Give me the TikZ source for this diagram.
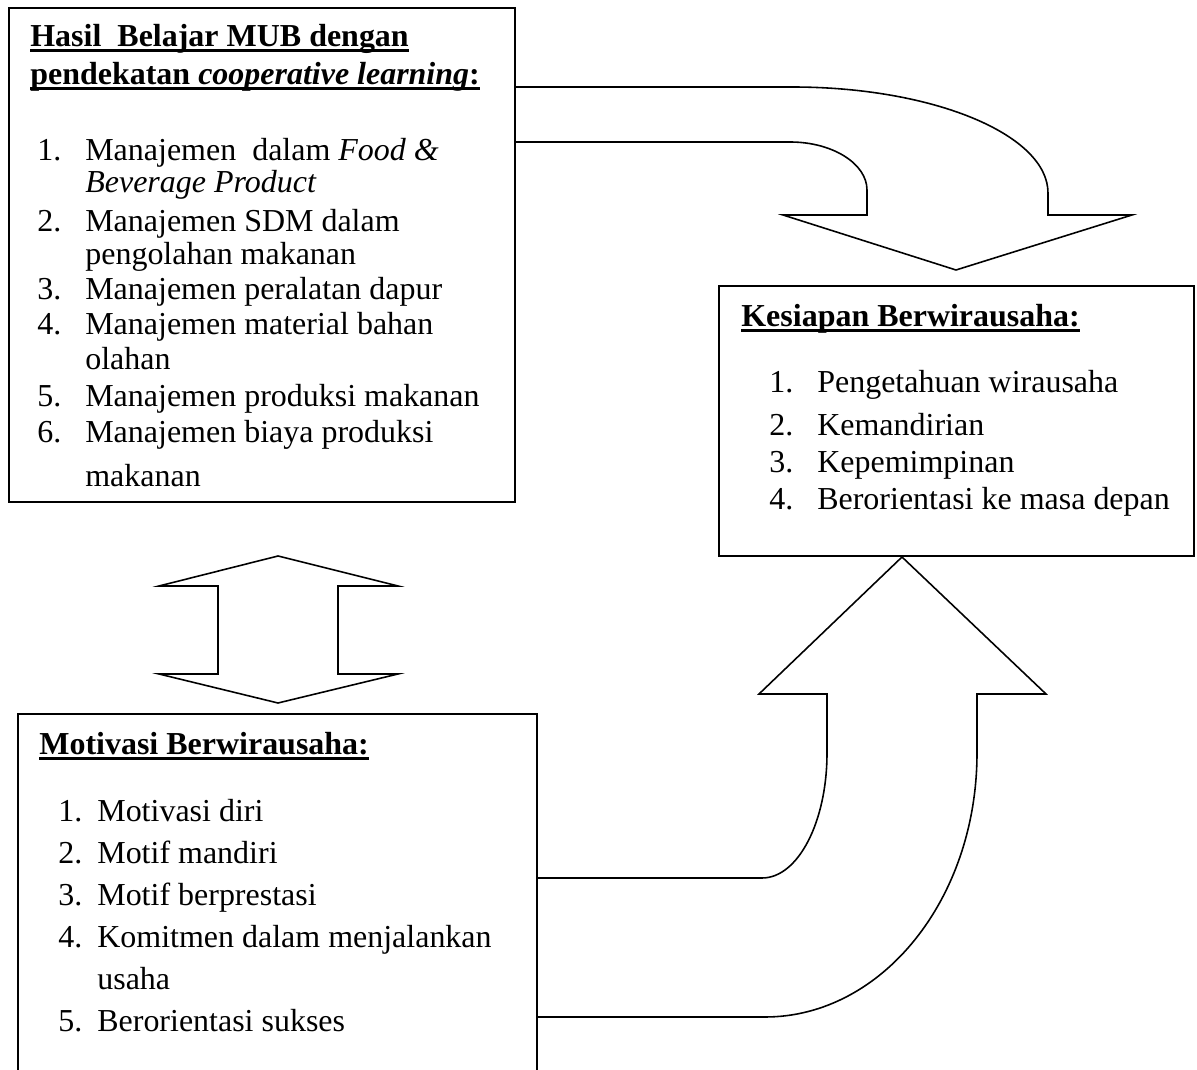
\documentclass[tikz,border=0pt]{standalone}
\usepackage{fontspec}
\setmainfont{Liberation Serif}
\usetikzlibrary{fit,calc}
\newcommand{\garis}[1]{\setbox0\hbox{#1}\rlap{\rule[-3pt]{\wd0}{1.6pt}}\box0}

\begin{document}
\begin{tikzpicture}[x=0.02cm,y=-0.02cm,
  kotak/.style={draw,line width=1.1pt,inner sep=0pt},
  panah/.style={line width=0.9pt,line join=miter},
  teks/.style={anchor=base west,inner sep=0pt,font=\fontsize{18.2}{19.92}\selectfont}]
\useasboundingbox (0,0) rectangle (1197,1070);
\clip (0,0) rectangle (1197,1070);
%kotak
\node[kotak,fit={(9,8) (515,502)}] (hasil) {};
\node[kotak,fit={(719,286) (1194,556)}] (siap) {};
\node[kotak,fit={(18,714) (537,1090)}] (motif) {};
%hasil belajar
\node[teks,font=\fontsize{18.2}{21.6}\selectfont\bfseries] (judulH) at (30,47)
  {\begin{tabular}[t]{@{}l@{}}\garis{Hasil\ \ Belajar MUB dengan}\\
   \garis{pendekatan \textit{cooperative learning}:}\end{tabular}};
\node[teks] (daftarH) at (37,161) {\begin{tabular}[t]{@{}p{0.96cm}@{}l@{}}
  1. & Manajemen\ \ dalam \textit{Food \&}\\[-0.06cm]
     & \textit{Beverage Product}\\[0.08cm]
  2. & Manajemen SDM dalam\\[-0.04cm]
     & pengolahan makanan\\
  3. & Manajemen peralatan dapur\\
  4. & Manajemen material bahan\\
     & olahan\\[0.04cm]
  5. & Manajemen produksi makanan\\[0.02cm]
  6. & Manajemen biaya produksi\\[0.18cm]
     & makanan
  \end{tabular}};
%kesiapan
\node[teks,font=\fontsize{18.2}{20}\selectfont\bfseries] (judulK) at (741,327) {\garis{Kesiapan Berwirausaha:}};
\node[teks,font=\fontsize{18.2}{21.05}\selectfont] (daftarK) at (769,393) {\begin{tabular}[t]{@{}p{0.96cm}@{}l@{}}
  1. & Pengetahuan wirausaha\\[0.12cm]
  2. & Kemandirian\\
  3. & Kepemimpinan\\
  4. & Berorientasi ke masa depan
  \end{tabular}};
%motivasi
\node[teks,font=\fontsize{18.2}{20}\selectfont\bfseries] (judulM) at (39,755) {\garis{Motivasi Berwirausaha:}};
\node[teks,font=\fontsize{18.2}{23.9}\selectfont] (daftarM) at (58,822) {\begin{tabular}[t]{@{}p{0.78cm}@{}l@{}}
  1. & Motivasi diri\\
  2. & Motif mandiri\\
  3. & Motif berprestasi\\
  4. & Komitmen dalam menjalankan\\
     & usaha\\
  5. & Berorientasi sukses
  \end{tabular}};
%panah
\draw[panah] (hasil.east |- 0,87) -- (792,87) .. controls (934,87) and (1048,135) .. (1048,193)
  -- (1048,215) -- (1132,215) -- (956,270) coordinate (ujungA) -- (783,215) -- (867,215) -- (867,190)
  .. controls (867,164) and (833,142) .. (790,142) -- (hasil.east |- 0,142);
\draw[panah] (motif.east |- 0,1017) -- (765,1017) .. controls (882,1017) and (977,899) .. (977,753)
  -- (977,694) -- (1046,694) -- (902,557) coordinate (ujungB) -- (759,694) -- (827,694) -- (827,753)
  .. controls (827,822) and (798,878) .. (762,878) -- (motif.east |- 0,878);
\draw[panah] (278,556) coordinate (ujungC) -- (398,586) -- (338,586) -- (338,674) -- (398,674)
  -- (278,703) coordinate (ujungD) -- (159,674) -- (218,674) -- (218,586) -- (159,586) -- cycle;
\end{tikzpicture}
\end{document}
